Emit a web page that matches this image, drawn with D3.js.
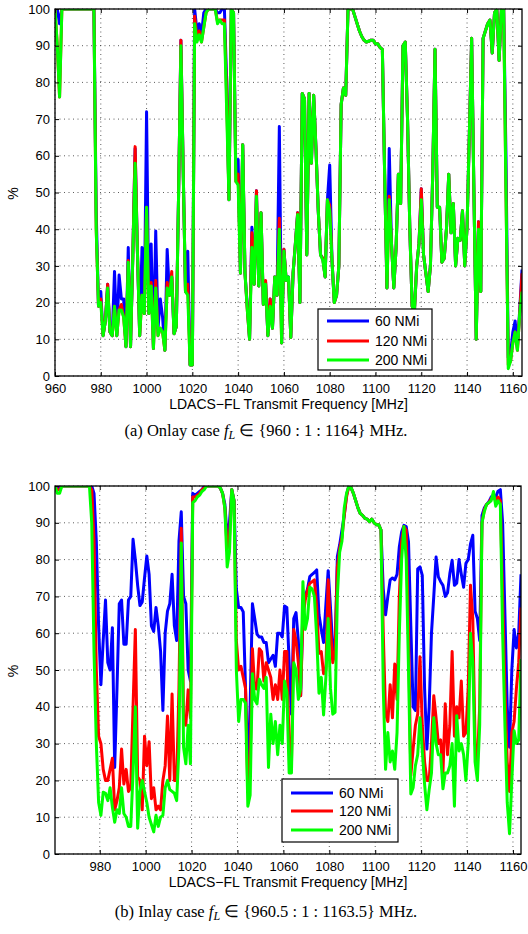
<!DOCTYPE html>
<html>
<head>
<meta charset="utf-8">
<script src="https://cdn.jsdelivr.net/npm/d3@7"></script>
<style>
  body { margin: 0; background: #fff; }
  svg text { font-family: "Liberation Sans", Arial, sans-serif; fill: #000; }
</style>
</head>
<body>
<div id="container"></div>
<script>
const width = 528;
const height = 934;

// ---------- panel (a): onlay, f = 960:1:1164 MHz ----------
const freqA = d3.range(960, 1165);

const blueA = [
  100, 100, 96, 100, 100, 100, 100, 100, 100, 100,      // 960
  100, 100, 100, 100, 100, 100, 100, 100, 45, 19,       // 970
  23, 11, 15, 25, 12, 11, 28.5, 11, 27.5, 21,           // 980
  21, 8, 35, 8, 33, 62, 34, 11, 35, 17,                 // 990
  72, 17, 36, 7.5, 39.5, 13, 21, 16, 7, 34.5,           // 1000
  22, 27, 11.5, 13.5, 50, 91.5, 56, 23, 34, 3,          // 1010
  3, 100, 94, 96, 93, 99, 100, 100, 100, 100,           // 1020
  100, 99, 99, 100, 100, 80, 48, 100, 99, 55,           // 1030
  59, 28, 63, 28, 19, 10, 40.5, 25, 50.5, 24.5,         // 1040
  44.5, 19.5, 25.5, 11, 21, 13, 27, 22, 68, 9,          // 1050
  34.5, 26, 27, 10.5, 28, 36, 44.5, 20, 77, 75.5,       // 1060
  33, 77, 58, 76.5, 62, 45, 33, 32, 27, 48,             // 1070
  57.5, 31.5, 20, 22, 30, 74, 78.5, 76.5, 100, 100,     // 1080
  100, 98, 96, 94, 92.5, 91.5, 91, 91.2, 91.5, 91.5,    // 1090
  90.5, 90.5, 89.5, 89, 55, 24, 62, 36, 24, 35,         // 1100
  55, 47, 90, 91, 70, 40, 19, 17.5, 30, 36,             // 1110
  51, 33, 28, 23, 30, 55, 89, 46, 46, 31,               // 1120
  32, 40, 55, 39, 47, 30, 37.5, 37, 45, 30,             // 1130
  40.5, 66, 92, 50, 10, 42, 23, 92, 94, 96,             // 1140
  97, 88, 99, 100, 86, 100, 100, 60, 5, 6,              // 1150
  12, 15, 8, 18, 29                                     // 1160
];

const redA = [
  100, 90, 76, 100, 100, 100, 100, 100, 100, 100,       // 960
  100, 100, 100, 100, 100, 100, 100, 100, 40, 19,       // 970
  21, 11, 15, 25, 12, 11, 19, 11, 18, 19.5,             // 980
  16, 8, 31.5, 8, 33, 62.5, 34, 11, 22, 17,             // 990
  46, 17, 25.5, 7.5, 26, 11, 13, 12, 7, 25.5,           // 1000
  22, 28.5, 11.5, 13.5, 50, 91.5, 56, 23, 25, 3,        // 1010
  3, 98, 92, 94, 91, 95, 99, 100, 100, 100,             // 1020
  100, 96.5, 97, 97, 97, 76, 48, 100, 99, 53,           // 1030
  55, 28, 63, 28, 18, 10, 39, 25, 50.5, 24.5,           // 1040
  44.5, 19.5, 26, 11, 21, 13, 27, 22, 43, 9,            // 1050
  34.5, 26, 26.5, 10.5, 28, 36, 44.5, 20, 77, 75.5,     // 1060
  33, 77, 58, 76.5, 62, 45, 33, 32, 27, 48,             // 1070
  46.5, 31.5, 20, 22, 30, 74, 78.5, 76.5, 100, 100,     // 1080
  100, 98, 96, 94, 92.5, 91.5, 91, 91.2, 91.5, 91.5,    // 1090
  90.5, 90.5, 89.5, 89, 55, 24, 49, 36, 24, 35,         // 1100
  55, 47, 90, 91, 70, 40, 19, 17.5, 30, 36,             // 1110
  51, 33, 28, 23, 30, 55, 89, 46, 46, 31,               // 1120
  32, 40, 55, 39, 47, 30, 37.5, 37, 45, 30,             // 1130
  40.5, 66, 92, 50, 10, 42, 23, 92, 94, 96,             // 1140
  97, 88, 99, 100, 86, 100, 100, 50, 3, 4,              // 1150
  9, 12, 7, 17, 28                                      // 1160
];

const greenA = [
  100, 90, 76, 100, 100, 100, 100, 100, 100, 100,       // 960
  100, 100, 100, 100, 100, 100, 100, 100, 40, 19,       // 970
  20, 11, 15, 24, 12, 11, 19, 11, 18, 18,               // 980
  16, 8, 31, 8, 33, 58, 34, 11, 22, 17,                 // 990
  46, 17, 24.5, 7.5, 24, 11, 13, 12, 7, 24,             // 1000
  22, 27, 11.5, 13.5, 50, 90, 56, 23, 22, 3,            // 1010
  3, 96, 91, 93, 91, 95, 99, 100, 100, 100,             // 1020
  100, 96, 97, 96, 96, 72, 48, 100, 99, 53,             // 1030
  52, 28, 63, 28, 18, 10, 35, 25, 49, 24.5,             // 1040
  44.5, 19.5, 25, 11, 19, 13, 27, 22, 40, 9,            // 1050
  34, 26, 27, 10.5, 28, 36, 44, 20, 77, 75.5,           // 1060
  33, 77, 58, 76.5, 62, 45, 33, 31.5, 27, 48,           // 1070
  45, 31.5, 20, 22, 30, 74, 78.5, 76.5, 100, 100,       // 1080
  100, 98, 96, 94, 92.5, 91.5, 91, 91.2, 91.5, 91.5,    // 1090
  90.5, 90.5, 89.5, 89, 55, 24, 48, 36, 24, 35,         // 1100
  55, 47, 90, 91, 70, 40, 19, 17.5, 30, 36,             // 1110
  48, 33, 28, 23, 30, 55, 89, 46, 46, 31,               // 1120
  32, 40, 55, 39, 47, 30, 37.5, 37, 45, 30,             // 1130
  40.5, 66, 92, 50, 10, 40, 23, 92, 94, 96,             // 1140
  97, 88, 99, 100, 86, 100, 100, 50, 2, 4,              // 1150
  9, 12, 7, 17, 23                                      // 1160
];

// ---------- panel (b): inlay, f = 960.5:1:1163.5 MHz ----------
const freqB = d3.range(960.5, 1164);

const blueB = [
  100, 99, 100, 100, 100, 100, 100, 100, 100, 100,      // 960.5
  100, 100, 100, 100, 100, 100, 100, 98, 85, 62,        // 970.5
  46, 58, 69, 52, 50, 61.5, 23.5, 45, 68, 69,           // 980.5
  57, 57, 69, 70, 85.5, 80, 73, 67.5, 68.5, 75,         // 990.5
  81, 76, 62, 60.5, 67, 62, 55, 39, 60, 66,             // 1000.5
  68, 76, 62, 58, 85, 93, 70, 68, 50, 47,               // 1010.5
  98, 97.5, 98, 98.5, 99, 100, 100, 100, 100, 100,      // 1020.5
  100, 100, 99.5, 98, 95, 86, 90, 99, 96, 72,           // 1030.5
  67, 67, 65.8, 45, 22.5, 40, 68, 64, 59.7, 59,         // 1040.5
  59, 57.5, 57.5, 52, 53, 54, 51, 60, 60, 59,           // 1050.5
  67.4, 67, 52, 38, 64, 65.6, 58, 43, 67, 70,           // 1060.5
  72, 75.4, 76, 76.5, 77.2, 65, 61, 57.5, 67.7, 77,     // 1070.5
  67, 56.3, 55, 80.8, 84, 88, 92, 97.6, 100, 99.5,      // 1080.5
  98, 96, 94, 92.5, 92, 91.2, 91, 90.3, 91, 90,         // 1090.5
  89.5, 89.5, 88, 72, 65, 70, 74.5, 75, 74.5, 76,       // 1100.5
  83.5, 87.5, 89.3, 89, 84.8, 62, 40, 39, 77.5, 78,     // 1110.5
  75.7, 45, 28.5, 40, 60, 70, 80.7, 75.3, 74, 73,       // 1120.5
  70, 71, 76.2, 79.8, 73, 73.6, 80, 76, 72.5, 79,       // 1130.5
  80, 84.3, 86.6, 66, 64, 58, 92, 94, 95, 95.7,         // 1140.5
  97, 97.5, 97, 98.6, 99, 90, 65, 40, 29, 50,           // 1150.5
  61, 56, 60, 76                                        // 1160.5
];

const redB = [
  100, 99, 99, 100, 100, 100, 100, 100, 100, 100,       // 960.5
  100, 100, 100, 100, 100, 100, 99, 85, 50, 32,         // 970.5
  30, 23, 20, 20, 23, 26, 12, 14.5, 18, 28.5,           // 980.5
  19, 23, 17, 18, 40, 61, 21, 20, 12, 32,               // 990.5
  24, 30.5, 15, 18, 12, 13, 12, 20, 24, 37.5,           // 1000.5
  20, 43.5, 20, 20, 45, 88.5, 36, 35, 44.6, 37,         // 1010.5
  97, 97, 97.5, 98, 99, 99.5, 100, 100, 100, 100,       // 1020.5
  100, 100, 99.5, 98, 94, 83, 86, 99, 96, 58,           // 1030.5
  50, 51, 48, 45, 17, 25, 55.8, 45, 44.8, 55.8,         // 1040.5
  55, 47, 52, 50, 48, 42, 46, 42, 50, 42,               // 1050.5
  55, 55, 29, 24, 61, 58, 52, 43, 64, 69,               // 1060.5
  71.7, 73.6, 74, 74.5, 67, 54.5, 55, 49, 50, 74.5,     // 1070.5
  61, 52, 55, 78, 83, 86, 92, 97, 100, 99.5,            // 1080.5
  98, 96, 94, 92.5, 92, 91.2, 91, 90.3, 91, 90,         // 1090.5
  89.5, 89.5, 88, 60, 38, 36, 46, 37, 51.6, 42,         // 1100.5
  70, 85, 89, 88, 60, 21.3, 28.5, 35, 38, 53.6,         // 1110.5
  35, 25, 20, 20, 30, 43, 37, 30, 31, 22,               // 1120.5
  40.8, 27, 35, 55, 32, 40, 37, 47, 32, 33,             // 1130.5
  45, 73, 64, 30, 25, 40, 90, 93.5, 95, 95.5,           // 1140.5
  96.5, 97, 96, 97, 96, 70, 45, 25, 17, 33,             // 1150.5
  36, 45, 52, 67                                        // 1160.5
];

const greenB = [
  100, 98, 98, 100, 100, 100, 100, 100, 100, 100,       // 960.5
  100, 100, 100, 100, 100, 100, 90, 55, 30, 14,         // 970.5
  10.5, 16.8, 16.5, 14.5, 18, 12.7, 8.6, 12, 11, 18,    // 980.5
  11, 10, 7.5, 7.5, 22, 40, 7, 17, 20, 17,              // 990.5
  14, 10, 8, 6, 10.5, 7.5, 10, 10.5, 18, 20,            // 1000.5
  17.5, 17, 16.5, 14.5, 29, 84.5, 29, 24.5, 35, 24.5,   // 1010.5
  95.5, 96, 97, 97.5, 98.5, 99, 100, 100, 100, 100,     // 1020.5
  100, 100, 99.5, 98, 94, 78, 82, 99, 96, 50,           // 1030.5
  36, 42, 42, 41, 13, 16, 49, 42, 40.8, 47.5,           // 1040.5
  46, 45, 48, 23.5, 38, 30, 36, 27, 35, 30,             // 1050.5
  47, 44, 22, 22, 52, 50, 42, 45, 74, 61,               // 1060.5
  64, 72.5, 72, 70, 59, 43.7, 48, 37.8, 48, 64,         // 1070.5
  45, 38, 38.5, 70, 82, 85, 94, 98, 100, 99.5,          // 1080.5
  98, 96, 94, 92.5, 92, 91.2, 91, 90.3, 91, 90,         // 1090.5
  89.5, 89.5, 88, 45, 23, 33, 25, 28, 23, 33,           // 1100.5
  60, 80, 89, 80, 50, 16.3, 18, 24, 27, 37,             // 1110.5
  28, 19, 12, 17.5, 22, 37, 30, 27, 27, 17.7,           // 1120.5
  22, 22, 24, 30, 13, 37.6, 28, 30, 27, 20,             // 1130.5
  30, 60, 52, 25, 20, 35, 90, 93, 95, 95.5,             // 1140.5
  96, 98.5, 94.5, 96, 95, 60, 35, 14, 5.5, 20,          // 1150.5
  33.5, 30, 31, 53                                      // 1160.5
];

const seriesNames = ["60 NMi", "120 NMi", "200 NMi"];
const seriesColors = ["#0000ff", "#ff0000", "#00ff00"];
const yTicks = d3.range(0, 101, 10);
const xTicksA = d3.range(960, 1161, 20);
const xTicksB = d3.range(980, 1161, 20);

const svg = d3.select("div#container").append("svg")
    .attr("width", width)
    .attr("height", height)
    .style("display", "block");

function drawPanel(cfg) {
    const x = d3.scaleLinear().domain(cfg.xDomain).range([cfg.left, cfg.right]);
    const y = d3.scaleLinear().domain([0, 100]).range([cfg.bottom, cfg.top]);
    const g = svg.append("g");

    svg.append("clipPath").attr("id", cfg.id)
      .append("rect")
        .attr("x", cfg.left).attr("y", cfg.top)
        .attr("width", cfg.right - cfg.left)
        .attr("height", cfg.bottom - cfg.top);

    // dotted grid
    g.append("g").selectAll("line").data(cfg.xTicks).enter().append("line")
        .attr("x1", d => x(d)).attr("x2", d => x(d))
        .attr("y1", cfg.top).attr("y2", cfg.bottom)
        .attr("stroke", "#333").attr("stroke-width", 0.8)
        .attr("stroke-dasharray", "1,3.5");
    g.append("g").selectAll("line").data(yTicks).enter().append("line")
        .attr("x1", cfg.left).attr("x2", cfg.right)
        .attr("y1", d => y(d)).attr("y2", d => y(d))
        .attr("stroke", "#333").attr("stroke-width", 0.8)
        .attr("stroke-dasharray", "1,3.5");

    // the three ranges, 60 NMi first so 200 NMi ends on top
    const line = d3.line()
        .x((d, i) => x(cfg.freq[i]))
        .y(d => y(d));

    const lines = g.append("g").attr("clip-path", "url(#" + cfg.id + ")");
    cfg.series.forEach(function(s, k) {
        lines.append("path")
            .datum(s)
            .attr("d", line)
            .attr("fill", "none")
            .attr("stroke", seriesColors[k])
            .attr("stroke-width", 3)
            .attr("stroke-linejoin", "round");
    });

    // axes, MATLAB style: inward ticks on all four sides
    const fmt = d => String(d);
    const xaxis = d3.axisBottom(x).tickValues(cfg.xTicks).tickFormat(fmt)
        .tickSize(-4).tickSizeOuter(0).tickPadding(8);
    const yaxis = d3.axisLeft(y).tickValues(yTicks).tickFormat(fmt)
        .tickSize(-4).tickSizeOuter(0).tickPadding(5);

    const gx = g.append("g")
        .attr("transform", "translate(0," + cfg.bottom + ")")
        .call(xaxis);
    const gy = g.append("g")
        .attr("transform", "translate(" + cfg.left + ",0)")
        .call(yaxis);
    g.append("g")
        .attr("transform", "translate(0," + cfg.top + ")")
        .call(d3.axisTop(x).tickValues(cfg.xTicks).tickSize(-4).tickSizeOuter(0).tickFormat(""));
    g.append("g")
        .attr("transform", "translate(" + cfg.right + ",0)")
        .call(d3.axisRight(y).tickValues(yTicks).tickSize(-4).tickSizeOuter(0).tickFormat(""));

    g.selectAll(".tick line").attr("stroke", "#000");
    g.selectAll(".domain").attr("stroke", "none");
    [gx, gy].forEach(a => a.selectAll("text")
        .attr("font-family", "Liberation Sans, Arial, sans-serif")
        .attr("font-size", 13)
        .attr("fill", "#000"));

    g.append("rect")
        .attr("x", cfg.left).attr("y", cfg.top)
        .attr("width", cfg.right - cfg.left)
        .attr("height", cfg.bottom - cfg.top)
        .attr("fill", "none")
        .attr("stroke", "#000")
        .attr("stroke-width", 1.3);

    // axis titles
    g.append("text")
        .attr("x", (cfg.left + cfg.right) / 2)
        .attr("y", cfg.bottom + 33)
        .attr("text-anchor", "middle")
        .attr("font-size", 14)
        .text("LDACS\u2212FL Transmit Frequency [MHz]");
    g.append("text")
        .attr("transform", "translate(18," + ((cfg.top + cfg.bottom) / 2 + 1) + ") rotate(-90)")
        .attr("text-anchor", "middle")
        .attr("font-size", 14)
        .text("%");

    // legend
    const lg = g.append("g").attr("transform", "translate(" + cfg.legend.x + "," + cfg.legend.y + ")");
    lg.append("rect")
        .attr("width", cfg.legend.w).attr("height", cfg.legend.h)
        .attr("fill", "#fff").attr("stroke", "#000").attr("stroke-width", 1.2);
    seriesNames.forEach(function(name, k) {
        const ly = cfg.legend.rows[k];
        lg.append("line")
            .attr("x1", 9).attr("x2", 51)
            .attr("y1", ly).attr("y2", ly)
            .attr("stroke", seriesColors[k]).attr("stroke-width", 3);
        lg.append("text")
            .attr("x", 57).attr("y", ly + 5)
            .attr("font-size", 14)
            .text(name);
    });

    // caption under the panel
    const cap = svg.append("text")
        .attr("x", width / 2 + 2)
        .attr("y", cfg.captionY)
        .attr("text-anchor", "middle")
        .style("font-family", "'Liberation Serif', 'Times New Roman', serif")
        .style("font-size", "16.5px");
    cap.append("tspan").text(cfg.captionHead + " case ");
    cap.append("tspan").style("font-style", "italic").text("f");
    cap.append("tspan").attr("dy", 3).style("font-size", "12px").style("font-style", "italic").text("L");
    cap.append("tspan").attr("dy", -3).text(" \u2208 {" + cfg.captionSet + "} MHz.");
}

drawPanel({
    id: "clipA",
    left: 55, right: 522, top: 9, bottom: 376,
    xDomain: [960, 1164],
    xTicks: xTicksA,
    freq: freqA,
    series: [blueA, redA, greenA],
    legend: {x: 318, y: 309, w: 114, h: 61, rows: [12, 32, 51]},
    captionY: 436,
    captionHead: "(a)  Onlay",
    captionSet: "960 : 1 : 1164"
});

drawPanel({
    id: "clipB",
    left: 55, right: 521, top: 486, bottom: 854,
    xDomain: [960.5, 1163.5],
    xTicks: xTicksB,
    freq: freqB,
    series: [blueB, redB, greenB],
    legend: {x: 282, y: 779, w: 116, h: 63, rows: [14, 32, 51]},
    captionY: 917,
    captionHead: "(b)  Inlay",
    captionSet: "960.5 : 1 : 1163.5"
});
</script>
</body>
</html>
